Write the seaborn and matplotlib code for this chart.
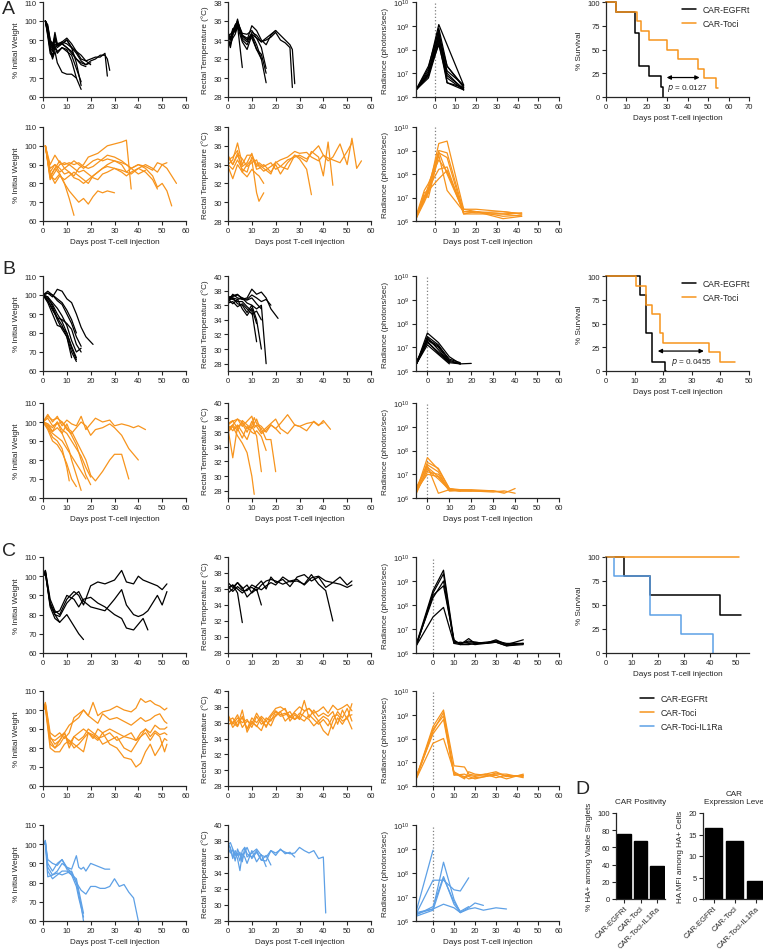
import numpy as np
import pandas as pd
import matplotlib
matplotlib.use('Agg')
import matplotlib.pyplot as plt
from matplotlib.lines import Line2D
from matplotlib.ticker import NullLocator
import seaborn as sns

sns.set_style('ticks')
plt.rcParams['font.family'] = ['Liberation Sans', 'DejaVu Sans']

BLACK = '#000000'
ORANGE = '#F7941D'
BLUE = '#5DA0E6'

# ---------------- Panel A ----------------
a_w_days = [1, 2, 3, 4, 5, 6, 8, 10, 12, 14, 16, 18, 20, 22, 24, 26, 27, 28]
a_w_egfrt = [
    [100, 96, 88, 86, 94, 88, 89, 88, 86, 84, 80, 79, 80, 81, 81, 83, 71],
    [100, 97, 90, 87, 92, 87, 88, 90, 86, 83, 79, 77, 79, 80, 82, 82, 80, 74],
    [100, 93, 85, 80, 84, 78, 73, 72, 72, 70, 64],
    [100, 95, 86, 84, 88, 86, 88, 90, 86, 78, 66],
    [100, 92, 83, 81, 86, 83, 86, 85, 79, 70],
    [100, 94, 87, 85, 90, 87, 88, 86, 84, 80, 77, 76],
    [100, 96, 89, 86, 90, 88, 88, 86, 83, 80, 78, 77, 78],
    [100, 98, 90, 88, 91, 87, 89, 91, 88, 84, 82, 79, 77],
    [100, 94, 85, 82, 87, 84, 86, 84, 82, 75, 68],
]
a_t_days = [0, 1, 2, 3, 4, 6, 8, 10, 12, 14, 16, 18, 20, 22, 24, 26, 27, 28]
a_t_egfrt = [
    [34.2, 33.5, 35, 35.5, 36, 34.5, 34, 35.5, 35, 34, 33.5, 34.5, 35, 34.5, 34, 33.5, 33, 29.4],
    [34.5, 34, 34.8, 35, 35.8, 34.2, 33.8, 34.8, 34.5, 33.8, 34, 34.3, 34.8, 34, 33.7, 33.2, 29],
    [34, 33.2, 34.5, 35.2, 36.2, 34, 33.5, 34.6, 33.5, 32, 29.5],
    [34.8, 34.2, 35.2, 34.8, 35.6, 34.5, 34.2, 34.2, 33, 32.5, 30.5],
    [33.8, 33.6, 34.2, 34.6, 35.4, 33.8, 33, 34.5, 33, 32],
    [34.3, 34, 35, 35.2, 35.5, 31.1],
    [34.5, 34.6, 34.9, 35.6, 35.9, 34.7, 34.6, 35, 34.2, 33.2, 31],
    [34.6, 34.2, 34.6, 35.2, 35.6, 34.4, 34, 34.6, 34.2, 33.8, 34.2, 34.6, 35],
]
a_r_days = [-9, -3, 2, 6, 14]
a_r_egfrt_log = [
    [6.3, 7.2, 9.05, 8.2, 6.5],
    [6.3, 7.0, 8.9, 7.3, 6.4],
    [6.3, 6.9, 8.7, 7.0, 6.3],
    [6.3, 7.1, 8.5, 6.9, 6.35],
    [6.3, 6.8, 8.3, 6.6, 6.3],
    [6.3, 6.9, 8.6, 7.3, 6.45],
    [6.3, 7.0, 8.2, 6.8, 6.3],
    [6.3, 7.3, 8.8, 6.6, 6.4],
    [6.3, 6.95, 8.4, 7.1, 6.5],
]
a_w2_days = [1, 3, 5, 7, 9, 11, 13, 15, 17, 19, 21, 23, 25, 27, 30, 33, 35, 37, 40, 43, 46, 48, 50, 52, 54, 56]
a_w_toci = [
    [100, 83, 88, 85, 80, 72, 63],
    [100, 84, 82, 85, 80, 76, 73, 70, 72, 69, 73, 76, 75, 76, 75],
    [100, 86, 90, 88, 85, 86, 84, 88, 90, 94, 95, 96, 98, 100, 101, 102, 103, 77],
    [100, 82, 86, 90, 91, 90, 92, 90, 88, 90, 92, 93, 92, 93, 92, 91, 90, 88, 90, 89, 87, 91, 90, 88, 84, 80],
    [100, 85, 80, 84, 82, 84, 86, 84, 82, 80, 84, 86, 88, 90, 92, 90, 86, 88, 90, 88, 84, 78, 80, 76, 68],
    [100, 88, 90, 86, 88, 90, 88, 86, 87, 85, 83, 82, 85, 86, 88, 87, 86, 85, 88, 86, 82, 77],
    [100, 90, 95, 91, 90, 91, 90, 91, 89, 88, 89, 91, 93, 95, 94, 92, 90, 88, 85, 87],
    [100, 84, 88, 92, 88, 86, 83, 82, 80, 82, 84, 86, 88, 89, 88, 86, 84, 86, 88, 90, 88, 86, 90, 91],
]
a_t2_days = [0, 2, 4, 6, 8, 10, 12, 13, 15, 18, 20, 22, 25, 28, 30, 33, 35, 38, 40, 42, 44, 47, 50, 52, 54, 56]
a_t_toci = [
    [34.5, 34.8, 35.5, 33.2, 34, 34.5, 31, 30.1, 31],
    [34, 34.5, 36.3, 34, 35, 35, 34, 34.2, 33.8, 34.2, 33.5, 33.8, 34.5, 34.8, 35, 34.6, 35.2, 36, 35, 34.4, 34.8, 36.2, 34, 36.8, 33.6, 34.4],
    [35, 34, 35, 33.8, 34.2, 35.2, 33.5, 33.6, 34, 33.2, 34, 33, 34.2, 35, 34.8, 34.3, 35.4, 34.8, 32.8, 36.4, 31.8],
    [34, 33.5, 34.5, 33.5, 33.2, 34.8, 33.8, 34, 33.6, 33, 34.3, 33.8, 33.5, 35, 34.6, 33.5, 30.8],
    [34.8, 34, 35.2, 34.6, 33.8, 34.2, 34.5, 33.8, 33.3, 33.8, 34.2, 34.5, 34.8, 35.4, 35.2, 35.3, 34.8, 34.4, 35, 34.7, 34.5, 34.2, 35.4, 36.3],
    [33.8, 32.5, 34, 33.2, 32.7, 33.5, 33, 32.8, 32],
]
a_r2_days = [-9, -5, -3, 2, 6, 14, 20, 33, 42]
a_r_toci_log = [
    [6.1, 7.2, 7.3, 9.3, 9.4, 6.5, 6.5, 6.4, 6.3],
    [6.2, 7.0, 7.5, 9.0, 8.9, 6.4, 6.4, 6.3, 6.2],
    [6.1, 6.8, 7.2, 8.9, 8.7, 6.3, 6.4, 6.1, 6.2],
    [6.2, 6.9, 7.4, 8.2, 8.3, 6.3, 6.3, 6.3, 6.35],
    [6.1, 7.1, 7.0, 8.8, 7.3, 6.4, 6.35, 6.4, 6.3],
    [6.2, 7.3, 7.6, 8.6, 8.1, 6.5, 6.4, 6.2, 6.25],
    [6.1, 6.9, 7.3, 7.8, 8.15, 6.35],
    [6.2, 7.0, 7.2, 8.95, 8.0, 6.4],
]
a_surv_egfrt_t = [0, 5, 14, 16, 21, 27, 28]
a_surv_egfrt_s = [100, 89, 67, 33, 22, 11, 0]
a_surv_toci_t = [0, 5, 15, 17, 21, 30, 35, 45, 48, 54, 55]
a_surv_toci_s = [100, 90, 80, 70, 60, 50, 40, 30, 20, 10, 10]

# ---------------- Panel B ----------------
b_days = [0, 2, 4, 6, 8, 10, 12, 14, 16, 18, 21]
b_w_egfrt = [
    [100, 101, 99, 103, 102, 98, 96, 90, 83, 78, 74],
    [100, 98, 95, 90, 86, 80, 72, 66],
    [100, 97, 92, 88, 84, 78, 70, 65],
    [100, 99, 96, 93, 89, 84, 76, 70, 72],
    [100, 96, 90, 84, 83, 80, 73, 67],
    [100, 101, 100, 98, 96, 92, 87, 80],
    [100, 99, 94, 88, 87, 85, 82, 74, 70],
    [100, 97, 93, 87, 82, 78, 67],
    [100, 102, 100, 97, 95, 90, 85, 78, 73],
]
b_t_egfrt = [
    [36.5, 37.5, 37, 36.8, 37, 38.2, 37.5, 37.8, 37, 35.5, 34.2],
    [37, 36.8, 36.5, 36.5, 35.8, 35.2, 31],
    [36.5, 37, 36.2, 36, 35, 36, 34, 30],
    [37.2, 37, 36.8, 37, 36.3, 36, 35.5, 36, 28],
    [36.8, 36.2, 36.8, 35.5, 34.6, 35.6, 33.5],
    [37, 37.3, 37.5, 36.8, 36.7, 37, 36.2, 35.5],
    [36.3, 36.5, 35.8, 36.2, 35.5, 34.8, 35.2, 34],
    [37, 37.2, 37.4, 37, 36.8, 37.4, 37, 36.5, 36.8, 36],
]
b_r_days = [-5, 0, 5, 10, 15, 20]
b_r_egfrt_log = [
    [6.3, 7.6, 7.2, 6.6, 6.3],
    [6.3, 7.3, 7.0, 6.4, 6.3],
    [6.35, 7.4, 6.9, 6.35, 6.3, 6.32],
    [6.3, 7.2, 6.8, 6.4],
    [6.3, 7.35, 7.05, 6.5, 6.35],
    [6.4, 7.25, 6.75, 6.35],
    [6.3, 7.1, 6.7, 6.3],
    [6.3, 7.45, 7.1, 6.45, 6.3],
]
b2_days = [0, 2, 4, 6, 8, 10, 11, 12, 14, 16, 18, 20, 22, 25, 28, 30, 33, 36, 38, 40, 43]
b_w_toci = [
    [100, 104, 100, 103, 98, 101, 100, 99, 98, 103, 96, 99, 102, 100, 101, 98, 99, 98, 97, 98, 96],
    [100, 103, 101, 102, 100, 96, 95, 94, 97, 100, 98, 93, 96, 97, 99, 97, 93, 86, 83, 80],
    [100, 98, 95, 100, 94, 99, 96, 95, 90, 85, 80, 72, 69, 74, 80, 83, 83, 70],
    [100, 97, 92, 90, 86, 76, 69],
    [100, 99, 95, 97, 94, 88, 85, 80, 72, 64],
    [100, 96, 90, 88, 84, 78, 74, 70, 66],
    [100, 102, 98, 99, 100, 97, 95, 93, 88, 80, 72, 67],
    [100, 97, 94, 92, 90, 86, 84, 82, 78, 74, 70],
    [100, 99, 97, 100, 96, 94, 92, 90, 86, 82, 76, 71],
]
b_t_toci = [
    [37, 37.5, 37.8, 36.8, 37.5, 38.2, 37, 36.8, 35.8, 36.3, 37, 36.5, 37.2, 38.4, 37, 36.8, 37.2, 37.4, 36.9, 37.6, 36.4],
    [36.5, 37, 36.2, 37.6, 37, 36.5, 37.2, 37.8, 36, 36.6, 37.2, 37.8, 36.5, 35.8, 37, 36.8, 36.2, 37.5, 37, 37.3],
    [36, 36.8, 35.5, 34.5, 33.2, 30, 27.5],
    [37, 36.2, 37, 36, 35, 36.8, 36.2, 35.5, 30.6],
    [36.5, 32.5, 36.8, 37.2, 36, 37.5, 36.6, 37, 36.5, 35, 35, 30.6],
    [37.2, 37.6, 36.5, 35.2, 36.8, 36, 35.8, 36.2, 35.4, 33.5],
    [36.2, 37, 37.8, 37.4, 36.5, 37, 38, 37.2, 36.8, 36, 37, 36.5, 35.8],
]
b_r2_days = [-5, 0, 5, 10, 15, 20, 30, 35, 40]
b_r_toci_log = [
    [6.3, 7.7, 7.2, 6.4, 6.35, 6.35, 6.3, 6.2, 6.4],
    [6.4, 7.4, 7.1, 6.3, 6.3, 6.3, 6.3, 6.25],
    [6.2, 7.3, 6.9, 6.3, 6.35, 6.3, 6.3],
    [6.3, 7.2, 6.8, 6.35, 6.3, 6.3],
    [6.45, 7.35, 6.2, 6.35, 6.3],
    [6.25, 7.1, 7.0, 6.35, 6.3, 6.3, 6.25, 6.3, 6.2],
    [6.3, 7.5, 7.25, 6.4, 6.3],
    [6.35, 7.0, 6.9, 6.35],
]
b_surv_egfrt_t = [0, 12, 14, 16, 20.5, 21]
b_surv_egfrt_s = [100, 80, 40, 10, 0, 0]
b_surv_toci_t = [0, 10.6, 14, 16, 19, 20, 36, 40, 45]
b_surv_toci_s = [100, 90, 70, 60, 40, 30, 20, 10, 10]

# ---------------- Panel C ----------------
c_w_days = [0, 1, 3, 5, 7, 10, 13, 15, 17, 20, 23, 26, 30, 33, 35, 38, 40, 42, 44, 46, 48, 50, 52]
c_w_egfrt = [
    [100, 103, 88, 82, 80, 88, 92, 90, 85, 95, 97, 96, 98, 103, 97, 96, 100, 98, 97, 96, 95, 93, 96],
    [100, 102, 85, 80, 79, 86, 90, 92, 87, 84, 83, 82, 88, 93, 85, 80, 79, 80, 82, 86, 90, 85, 92],
    [100, 103, 86, 81, 82, 90, 88, 84, 88, 89, 86, 84, 80, 78, 73, 72, 75, 78, 72],
    [100, 102, 84, 78, 76, 80, 74, 70, 67],
    [100, 101, 86, 80, 76],
]
c_t_days = [0, 2, 4, 6, 8, 10, 12, 14, 16, 18, 20, 23, 26, 29, 32, 35, 38, 41, 44, 47, 50, 52]
c_t_egfrt = [
    [36, 36.5, 36, 35.5, 36, 36.2, 35.8, 36.5, 37, 37.2, 37, 36.6, 37, 37.2, 36.5, 37.4, 37.6, 37, 36.8, 37.5, 36.5, 37],
    [35.5, 36, 36.8, 36.2, 35, 35.6, 36.4, 37, 36, 37.5, 36.8, 37.2, 36.3, 37.5, 37.8, 37, 37.5, 36.2, 36.8, 36.6, 36.2, 36.5],
    [36.3, 35.7, 36.3, 35.8, 35.8, 36.5, 36.2, 35.9, 36.4, 36.8, 36.5, 37.5, 36.9, 37, 36.6, 37.8, 36.6, 35.8, 32],
    [36.8, 36.2, 36.8, 36, 36.5, 35.5, 36, 34],
    [36.2, 36.5, 35.5, 31.8],
]
c_r_days = [-8, 0, 5, 10, 13, 17, 20, 25, 30, 35, 43]
c_r_egfrt_log = [
    [6.35, 8.6, 9.45, 6.5, 6.4, 6.5, 6.45, 6.4, 6.55, 6.35, 6.55],
    [6.3, 8.5, 9.3, 6.4, 6.45, 6.4, 6.35, 6.4, 6.5, 6.4, 6.4],
    [6.3, 8.4, 8.8, 6.55, 6.35, 6.6, 6.4, 6.45, 6.5, 6.35, 6.4],
    [6.35, 8.3, 9.0, 6.45, 6.4, 6.45, 6.45, 6.4, 6.45, 6.3, 6.4],
    [6.3, 7.5, 7.9, 6.4, 6.35, 6.35, 6.4, 6.4, 6.45, 6.3, 6.35],
]
c_w2_days = [0, 1, 3, 5, 7, 9, 11, 13, 15, 17, 19, 21, 23, 25, 28, 31, 34, 37, 39, 41, 43, 45, 47, 49, 51, 52]
c_w_toci = [
    [100, 104, 88, 86, 88, 85, 88, 96, 98, 100, 97, 104, 97, 99, 100, 102, 100, 99, 101, 106, 104, 105, 103, 102, 100, 101],
    [100, 103, 85, 84, 86, 88, 92, 94, 96, 100, 97, 95, 93, 98, 95, 96, 94, 92, 94, 96, 94, 95, 97, 98, 94, 93],
    [100, 102, 82, 80, 84, 88, 82, 86, 88, 90, 88, 87, 85, 86, 88, 84, 86, 88, 84, 86, 90, 88, 92, 90, 90, 91],
    [100, 101, 80, 78, 78, 82, 84, 82, 80, 78, 88, 86, 84, 88, 82, 80, 75, 74, 70, 72, 78, 82, 76, 80, 85, 84],
    [100, 103, 86, 82, 84, 88, 80, 86, 84, 86, 90, 88, 86, 82, 84, 86, 80, 78, 82, 86, 88, 84, 88, 86, 78, 82],
    [100, 102, 84, 80, 82, 86, 84, 80, 82, 85, 88, 85, 90, 88, 90, 88, 86, 85, 84, 88, 90, 86, 89, 87, 88, 87],
]
c_t2_days = [0, 2, 4, 6, 8, 10, 12, 14, 16, 18, 20, 22, 24, 26, 28, 30, 32, 34, 36, 38, 40, 42, 44, 46, 48, 50, 52]
c_t_toci = [
    [36.5, 36, 35.5, 36.8, 35.2, 36.2, 35.5, 36.6, 35.4, 36.8, 37.5, 37, 37.2, 36.6, 37.4, 38, 37.5, 37.8, 37.2, 37.5, 38, 37.2, 38.2, 37.6, 37.9, 38.3, 37.5],
    [37, 35.8, 36.6, 36, 36.4, 35.4, 36.8, 35.8, 36.2, 37, 37.8, 38, 37.6, 36.8, 37.2, 36.6, 36.2, 37, 36.4, 35.8, 36.4, 35.6, 36.8, 37, 36.2, 36.6, 35.2],
    [36.2, 36.6, 35.6, 37.6, 34.8, 36, 35.6, 35, 36.6, 36.2, 37.4, 36.8, 37, 37.4, 36.4, 37.2, 36.8, 36.4, 35.6, 36.2, 35, 34.4, 36.2, 37.4, 36.6, 37.8, 36.2],
    [35.8, 36, 37, 35.4, 36.2, 35.8, 37.2, 36.2, 35.6, 36.4, 36.8, 37.4, 36.2, 36.8, 36.4, 36.8, 38.8, 36.6, 37.6, 36.8, 37.2, 36.8, 37.4, 35.8, 37.6, 36.4, 38.4],
    [36.8, 35.4, 36.2, 36.6, 35.2, 36.6, 36, 36.8, 36.2, 35.6, 37, 37.4, 37.8, 36.2, 37, 36.4, 37.4, 37.8, 37, 36.2, 36.8, 36.4, 35.2, 36.6, 35.8, 36.8, 37],
]
c_r2_days = [-8, 0, 5, 10, 15, 17, 20, 25, 30, 35, 43]
c_r_toci_log = [
    [6.35, 8.5, 9.2, 6.85, 6.8, 6.5, 6.45, 6.5, 6.6, 6.4, 6.45],
    [6.3, 8.3, 9.1, 6.55, 6.3, 6.6, 6.5, 6.45, 6.5, 6.5, 6.35],
    [6.35, 8.4, 8.95, 6.45, 6.5, 6.4, 6.3, 6.4, 6.45, 6.3, 6.5],
    [6.3, 7.8, 8.0, 6.6, 6.35, 6.45, 6.4, 6.5, 6.35, 6.45, 6.4],
    [6.4, 8.2, 8.8, 6.5, 6.4, 6.3, 6.35, 6.4, 6.55, 6.4, 6.45],
]
c_w3_days = [0, 1, 2, 4, 6, 8, 10, 12, 14, 15, 16, 17, 18, 20, 22, 24, 26, 28, 30, 32, 34, 36, 38, 40]
c_w_il1 = [
    [100, 101, 92, 90, 89, 92, 88, 87, 94, 88, 87, 88, 86, 90, 89, 88, 87, 87],
    [100, 101, 88, 84, 85, 84, 85, 86, 80, 78, 76, 75, 74, 78, 78, 77, 77, 78, 82, 78, 79, 75, 72, 60],
    [100, 102, 86, 82, 84, 86, 86, 84, 78, 72, 67, 62],
    [100, 100, 83, 84, 86, 90, 88, 85, 80, 74, 68, 60],
    [100, 101, 90, 86, 90, 92, 87, 84, 82, 76, 70, 64],
]
c_t3_days = [0, 1, 2, 3, 4, 5, 6, 7, 8, 10, 12, 14, 16, 18, 20, 22, 24, 26, 28, 30, 32, 34, 36, 38, 40, 41]
c_t_il1 = [
    [37.5, 37.8, 37, 36.2, 36.5, 35.5, 36.8, 37.2, 36, 36.5, 37, 36.2, 36, 36.8, 36.5, 36.9, 36.6, 36.4, 36.5, 37.2, 36.8, 36.5, 36.8, 35.8, 36, 29],
    [37.8, 37, 36, 36.5, 35.8, 34.3, 36.4, 36, 35.2, 36.8, 35.4, 36.3, 34.8],
    [37.2, 36.5, 36.9, 35.5, 37, 36.2, 35.8, 36.6, 37.2, 35.8, 36.6, 35.6, 35.5, 36.8, 36.2, 37, 36.4, 36.6, 36],
    [37.6, 37.2, 35.8, 36.8, 36.2, 36.6, 35.4, 37.2, 36.4, 36, 36.8, 35.6, 36.2, 35],
]
c_r3_days = [-8, 0, 5, 10, 13, 17, 20, 24, 30, 35]
c_r_il1_log = [
    [6.4, 8.95],
    [6.3, 7.7, 7.7, 7.3, 7.25, 7.8],
    [6.35, 6.5, 8.45, 6.9, 6.35],
    [6.25, 6.6, 7.85, 6.7, 6.35, 6.55, 6.75, 6.65],
    [6.3, 6.5, 6.7, 6.55, 6.35, 6.5, 6.55, 6.45, 6.55, 6.5],
    [6.2, 6.45, 7.8, 6.8, 6.4, 6.6],
]
c_surv_egfrt_t = [0, 7, 17, 44, 52]
c_surv_egfrt_s = [100, 80, 60, 40, 40]
c_surv_toci_t = [0, 51]
c_surv_toci_s = [100, 100]
c_surv_il1_t = [0, 3, 17, 29, 41]
c_surv_il1_s = [100, 80, 40, 20, 0]

# ---------------- Panel D ----------------
d_groups = ['CAR-EGFRt', 'CAR-Toci', 'CAR-Toci-IL1Ra']
d_positivity = [76, 67, 38]
d_mfi = [16.5, 13.6, 4.1]

# ---------------- drawing ----------------
W, H = 763, 953
fig = plt.figure(figsize=(W / 100, H / 100), dpi=100)

TICK_FS = 5.5
LAB_FS = 5.9
XLAB = 'Days post T-cell injection'


def add_ax(l, t, r, b):
    return fig.add_axes([l / W, 1 - b / H, (r - l) / W, (b - t) / H])


def spaghetti(ax, days, mice, color, log=False):
    rows = []
    for i, vals in enumerate(mice):
        for d, v in zip(days, vals):
            rows.append((i, d, 10 ** v if log else v))
    df = pd.DataFrame(rows, columns=['mouse', 'day', 'value'])
    sns.lineplot(data=df, x='day', y='value', units='mouse', estimator=None,
                 color=color, lw=0.9, ax=ax, sort=False, legend=False)


def finish(ax, xlabel, ylabel):
    sns.despine(ax=ax)
    ax.tick_params(labelsize=TICK_FS, length=3, width=0.8, pad=1.5)
    for s in ('left', 'bottom'):
        ax.spines[s].set_linewidth(0.9)
    ax.set_xlabel(XLAB if xlabel else '', fontsize=LAB_FS, labelpad=3)
    ax.set_ylabel(ylabel, fontsize=LAB_FS, labelpad=3)


def weight_ax(pos, days, mice, color, xlabel):
    ax = add_ax(43, pos[0], 186, pos[1])
    spaghetti(ax, days, mice, color)
    ax.set_xlim(0, 60)
    ax.set_xticks(range(0, 61, 10))
    ax.set_ylim(60, 110)
    ax.set_yticks(range(60, 111, 10))
    finish(ax, xlabel, '% Initial Weight')


def temp_ax(pos, days, mice, color, xlabel, ylim, yticks):
    ax = add_ax(228, pos[0], 371, pos[1])
    spaghetti(ax, days, mice, color)
    ax.set_xlim(0, 60)
    ax.set_xticks(range(0, 61, 10))
    ax.set_ylim(*ylim)
    ax.set_yticks(yticks)
    finish(ax, xlabel, 'Rectal Temperature (°C)')


def rad_ax(pos, days, mice, color, xlabel, xmin):
    ax = add_ax(416, pos[0], 559, pos[1])
    ax.set_yscale('log')
    ax.axvline(0, ls=':', color='#808080', lw=0.9, zorder=0)
    spaghetti(ax, days, mice, color, log=True)
    ax.set_xlim(xmin, 60)
    ax.set_xticks(range(0, 61, 10))
    ax.set_ylim(1e6, 1e10)
    ax.set_yticks([1e6, 1e7, 1e8, 1e9, 1e10])
    ax.yaxis.set_minor_locator(NullLocator())
    finish(ax, xlabel, 'Radiance (photons/sec)')


def surv_ax(pos, curves, xmax, xticks):
    ax = add_ax(606, pos[0], 749, pos[1])
    for t, s, c in curves:
        df = pd.DataFrame({'day': t, 'surv': s})
        sns.lineplot(data=df, x='day', y='surv', color=c, lw=1.1, ax=ax,
                     drawstyle='steps-post', estimator=None, clip_on=False)
    ax.set_xlim(0, xmax)
    ax.set_xticks(xticks)
    ax.set_ylim(0, 100)
    ax.set_yticks([0, 25, 50, 75, 100])
    finish(ax, True, '% Survival')
    return ax


def pval(ax, x0, x1, y, tx, ty, p):
    ax.annotate('', xy=(x1, y), xytext=(x0, y),
                arrowprops=dict(arrowstyle='<|-|>', color='black', lw=0.9,
                                mutation_scale=6, shrinkA=0, shrinkB=0))
    ax.text(tx, ty, f'$p$ = {p}', fontsize=LAB_FS, va='center', ha='left')


# Panel A
weight_ax((3, 98), a_w_days, a_w_egfrt, BLACK, False)
temp_ax((3, 98), a_t_days, a_t_egfrt, BLACK, False, (28, 38), range(28, 39, 2))
rad_ax((3, 98), a_r_days, a_r_egfrt_log, BLACK, False, -9)
ax = surv_ax((3, 98), [(a_surv_egfrt_t, a_surv_egfrt_s, BLACK),
                       (a_surv_toci_t, a_surv_toci_s, ORANGE)], 70, range(0, 71, 10))
pval(ax, 29.7, 45.8, 20.5, 29.7, 10, '0.0127')
weight_ax((128, 222), a_w2_days, a_w_toci, ORANGE, True)
temp_ax((128, 222), a_t2_days, a_t_toci, ORANGE, True, (28, 38), range(28, 39, 2))
rad_ax((128, 222), a_r2_days, a_r_toci_log, ORANGE, True, -9)

# Panel B
weight_ax((277, 372), b_days, b_w_egfrt, BLACK, False)
temp_ax((277, 372), b_days, b_t_egfrt, BLACK, False, (27, 40), range(28, 41, 2))
rad_ax((277, 372), b_r_days, b_r_egfrt_log, BLACK, False, -5.2)
ax = surv_ax((277, 372), [(b_surv_egfrt_t, b_surv_egfrt_s, BLACK),
                          (b_surv_toci_t, b_surv_toci_s, ORANGE)], 50, range(0, 51, 10))
pval(ax, 18.1, 34.2, 21, 22.6, 10, '0.0455')
weight_ax((404, 499), b2_days, b_w_toci, ORANGE, True)
temp_ax((404, 499), b2_days, b_t_toci, ORANGE, True, (27, 40), range(28, 41, 2))
rad_ax((404, 499), b_r2_days, b_r_toci_log, ORANGE, True, -5.2)

# Panel C
weight_ax((558, 654), c_w_days, c_w_egfrt, BLACK, False)
temp_ax((558, 654), c_t_days, c_t_egfrt, BLACK, False, (28, 40), range(28, 41, 2))
rad_ax((558, 654), c_r_days, c_r_egfrt_log, BLACK, False, -8.1)
surv_ax((558, 654), [(c_surv_egfrt_t, c_surv_egfrt_s, BLACK),
                     (c_surv_il1_t, c_surv_il1_s, BLUE),
                     (c_surv_toci_t, c_surv_toci_s, ORANGE)], 55, range(0, 51, 10))
weight_ax((692, 787), c_w2_days, c_w_toci, ORANGE, False)
temp_ax((692, 787), c_t2_days, c_t_toci, ORANGE, False, (28, 40), range(28, 41, 2))
rad_ax((692, 787), c_r2_days, c_r_toci_log, ORANGE, False, -8.1)
weight_ax((826, 922), c_w3_days, c_w_il1, BLUE, True)
temp_ax((826, 922), c_t3_days, c_t_il1, BLUE, True, (28, 40), range(28, 41, 2))
rad_ax((826, 922), c_r3_days, c_r_il1_log, BLUE, True, -8.1)


# Legends
def legend(x, y, names, colors):
    handles = [Line2D([], [], color=c, lw=1.1) for c in colors]
    fig.legend(handles, names, loc='upper left', bbox_to_anchor=(x / W, 1 - y / H),
               frameon=False, fontsize=6.2, handlelength=1.6, handletextpad=0.8,
               labelspacing=0.6, borderaxespad=0, borderpad=0)


legend(682, 6, ['CAR-EGFRt', 'CAR-Toci'], [BLACK, ORANGE])
legend(682, 280, ['CAR-EGFRt', 'CAR-Toci'], [BLACK, ORANGE])
legend(640, 695, ['CAR-EGFRt', 'CAR-Toci', 'CAR-Toci-IL1Ra'], [BLACK, ORANGE, BLUE])

# Panel D
d_df = pd.DataFrame({'group': d_groups, 'pos': d_positivity, 'mfi': d_mfi})
for (l, r), col, ylim, yt, ylab, title in [
        ((616, 665), 'pos', (0, 100), range(0, 101, 20), '% HA+ among Viable Singlets', 'CAR Positivity'),
        ((703, 766), 'mfi', (0, 20), range(0, 21, 5), 'HA MFI among HA+ Cells', 'CAR\nExpression Level')]:
    ax = add_ax(l, 814, r, 900)
    sns.barplot(data=d_df, x='group', y=col, color='black', width=0.85, ax=ax,
                saturation=1, edgecolor='black')
    ax.set_ylim(*ylim)
    ax.set_yticks(yt)
    ax.set_xlim(-0.5, 2.5)
    finish(ax, False, ylab)
    ax.set_xlabel('')
    ax.tick_params(axis='x', length=3, pad=1)
    ax.set_xticks(range(3))
    ax.set_xticklabels(d_groups, rotation=45, ha='right', va='top',
                       rotation_mode='anchor', fontsize=5.6)
    ax.set_title(title, fontsize=LAB_FS, pad=7)

# Panel letters
for letter, x, y in [('A', 2, 10), ('B', 2, 270), ('C', 2, 552), ('D', 575, 790)]:
    fig.text(x / W, 1 - y / H, letter, fontsize=14, va='center', ha='left')

fig.savefig('out.png', dpi=100)
